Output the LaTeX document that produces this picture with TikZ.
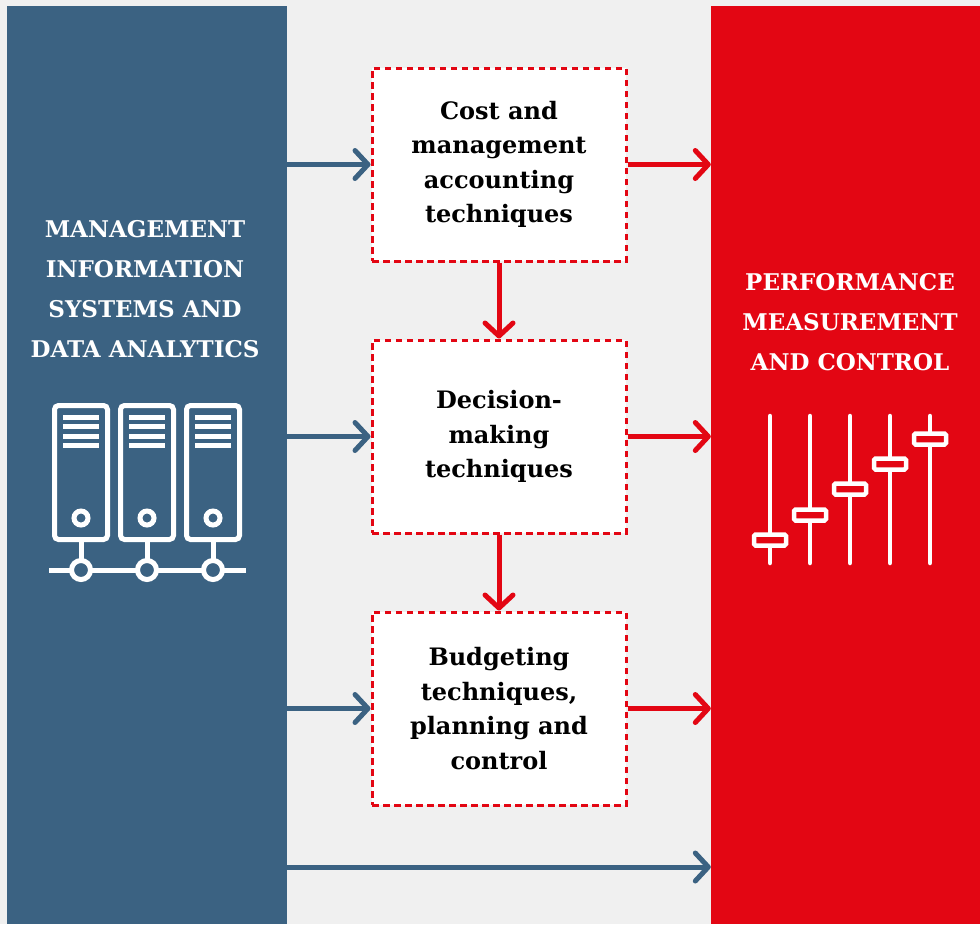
\documentclass[tikz,border=0pt]{standalone}
\usepackage{fontspec}
\setmainfont{DejaVu Serif}
\usepackage{tikz}
\usetikzlibrary{positioning,arrows.meta}
\definecolor{misBlue}{HTML}{3B6282}
\definecolor{pmcRed}{HTML}{E30613}
\definecolor{bgGray}{HTML}{F0F0F0}
\tikzstyle{arrow} = [line width=5pt,-{Straight Barb[length=13pt,width=28pt,round]}]
\tikzstyle{technique} = [rectangle, fill=white, draw=pmcRed, line width=3pt, dash pattern=on 6.5pt off 4.5pt, minimum width=254pt, minimum height=193pt, align=center, text=black, font=\bfseries\fontsize{24}{34.5}\selectfont]
\tikzstyle{panel} = [rectangle, minimum height=918pt, inner sep=0pt]
\tikzstyle{panelTitle} = [text=white, align=center, font=\bfseries\fontsize{23}{40}\selectfont]
\tikzstyle{icon} = [white, line width=5pt]

\begin{document}
\begin{tikzpicture}[x=1pt, y=-1pt, node distance=272pt]
\fill [bgGray] (0,0) rectangle (980,924);
\useasboundingbox (0,0) rectangle (980,924);
%----------------------------------------------------------------------------
% Side panels
\node (misPanel) [panel, fill=misBlue, minimum width=280pt] at (147,465) {};
\node (pmcPanel) [panel, fill=pmcRed, minimum width=269pt] at (845.5,465) {};

\node (misTitle) [panelTitle] at (145,289) {MANAGEMENT\\INFORMATION\\SYSTEMS AND\\DATA ANALYTICS};
\node (pmcTitle) [panelTitle] at (850,322) {PERFORMANCE\\MEASUREMENT\\AND CONTROL};

%----------------------------------------------------------------------------
% Placement of technique boxes
\node (costBox) [technique] at (499,164.5) {Cost and\\management\\accounting\\techniques};
\node (decisionBox) [technique, below of=costBox] {Decision-\\making\\techniques};
\node (budgetBox) [technique, below of=decisionBox] {Budgeting\\techniques,\\planning and\\control};

\coordinate (bottomLink) at (499,867);

%----------------------------------------------------------------------------
% Server icon
\draw [icon] (49,570) -- (246,570);
\draw [icon, rounded corners=4pt] (54.5,405.5) rectangle (107.5,539.5);
\draw [icon, rounded corners=4pt] (120.5,405.5) rectangle (173.5,539.5);
\draw [icon, rounded corners=4pt] (186.5,405.5) rectangle (239.5,539.5);
\draw [icon] (63,417) -- (99,417) (63,426.5) -- (99,426.5) (63,436) -- (99,436) (63,445.5) -- (99,445.5);
\draw [icon] (129,417) -- (165,417) (129,426.5) -- (165,426.5) (129,436) -- (165,436) (129,445.5) -- (165,445.5);
\draw [icon] (195,417) -- (231,417) (195,426.5) -- (231,426.5) (195,436) -- (231,436) (195,445.5) -- (231,445.5);
\draw [icon] (81,518) circle (7) (147,518) circle (7) (213,518) circle (7);
\draw [icon] (81,540) -- (81,561) (147,540) -- (147,561) (213,540) -- (213,561);
\draw [icon, fill=misBlue] (81,570) circle (9.5) (147,570) circle (9.5) (213,570) circle (9.5);

% Slider icon
\draw [icon, line width=4.5pt, line cap=round] (770,416) -- (770,563) (810,416) -- (810,563) (850,416) -- (850,563) (890,416) -- (890,563) (930,416) -- (930,563);
\draw [icon, line width=4.5pt, fill=pmcRed, rounded corners=1.5pt] (754,534.5) rectangle (786,545.5);
\draw [icon, line width=4.5pt, fill=pmcRed, rounded corners=1.5pt] (794,509.5) rectangle (826,520.5);
\draw [icon, line width=4.5pt, fill=pmcRed, rounded corners=1.5pt] (834,483.5) rectangle (866,494.5);
\draw [icon, line width=4.5pt, fill=pmcRed, rounded corners=1.5pt] (874,458.5) rectangle (906,469.5);
\draw [icon, line width=4.5pt, fill=pmcRed, rounded corners=1.5pt] (914,433.5) rectangle (946,444.5);

%----------------------------------------------------------------------------
% Drawing of Lines
\draw [arrow, misBlue] (costBox.west -| misPanel.east) -- (costBox.west);
\draw [arrow, misBlue] (decisionBox.west -| misPanel.east) -- (decisionBox.west);
\draw [arrow, misBlue] (budgetBox.west -| misPanel.east) -- (budgetBox.west);
\draw [arrow, misBlue] (bottomLink -| misPanel.east) -- (bottomLink -| pmcPanel.west);

\draw [arrow, pmcRed] (costBox.east) -- (costBox.east -| pmcPanel.west);
\draw [arrow, pmcRed] (decisionBox.east) -- (decisionBox.east -| pmcPanel.west);
\draw [arrow, pmcRed] (budgetBox.east) -- (budgetBox.east -| pmcPanel.west);

\draw [arrow, pmcRed] (costBox) -- (decisionBox);
\draw [arrow, pmcRed] (decisionBox) -- (budgetBox);

\end{tikzpicture}
\end{document}
